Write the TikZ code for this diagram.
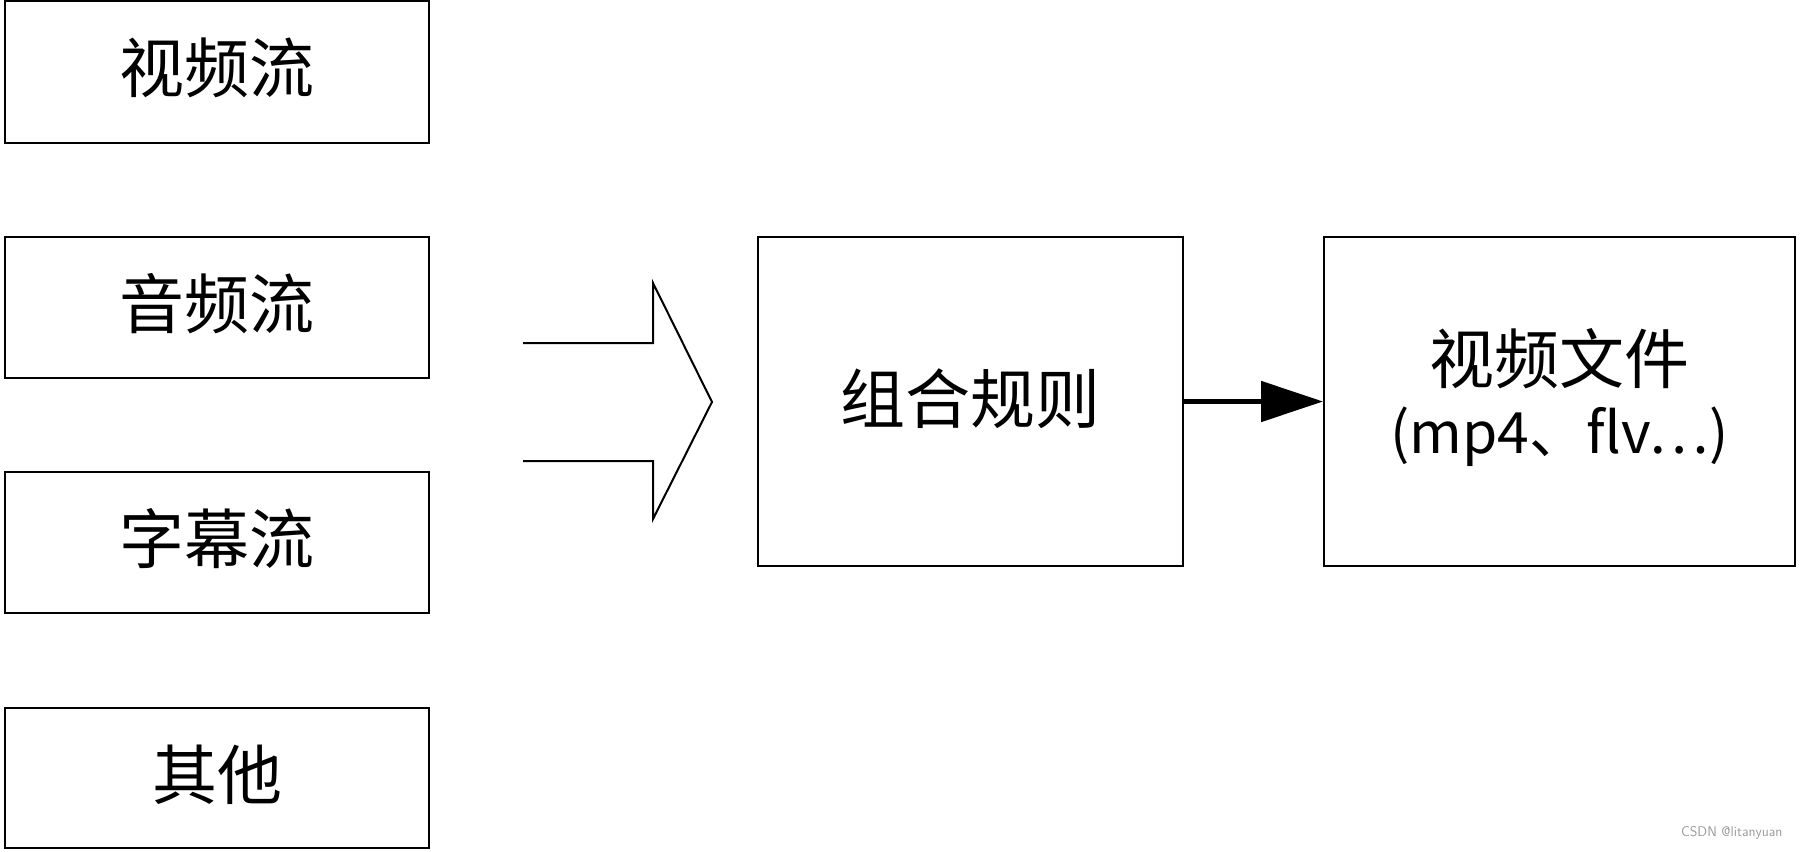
\documentclass[tikz,border=0pt]{standalone}
\usepackage{fontspec}
\newfontfamily\cjk{Noto Sans CJK SC}
\usetikzlibrary{arrows.meta}
\begin{document}
\begin{tikzpicture}[x=1pt,y=-1pt,
  box/.style={draw, line width=2pt, inner sep=0pt, font=\cjk\fontsize{65}{76}\selectfont},
  lbl/.style={font=\cjk\fontsize{65}{76}\selectfont, inner sep=0pt},
  bigarrow/.style={draw, line width=2pt, line join=miter},
  link/.style={line width=5pt, -{Triangle[length=62pt,width=40pt]}}]
\useasboundingbox (0,0) rectangle (1801,851);
\node[box, minimum width=424pt, minimum height=142pt] (v) at (217,72) {};
\node[lbl] (vt) at (217,68) {视频流};
\node[box, minimum width=424pt, minimum height=141pt] (a) at (217,307.5) {};
\node[lbl] (at) at (217,304) {音频流};
\node[box, minimum width=424pt, minimum height=141pt] (s) at (217,542.5) {};
\node[lbl] (st) at (217,539) {字幕流};
\node[box, minimum width=424pt, minimum height=140pt] (o) at (217,778) {};
\node[lbl] (ot) at (217,774.5) {其他};
\node[box, minimum width=425pt, minimum height=329pt] (r) at (970.5,401.5) {};
\node[lbl] (rt) at (970.5,399) {组合规则};
\node[box, minimum width=471pt, minimum height=329pt] (f) at (1559.5,401.5) {};
\node[lbl] (ft1) at (1559.5,359) {视频文件};
\node[lbl, font=\cjk\fontsize{57}{66}\selectfont] (ft2) at (1559.5,437) {(mp4、flv…)};
\coordinate (t1) at (523,343);
\coordinate (t2) at (523,461);
\draw[bigarrow] (t1) -- (653,343) -- (653,283) -- (712,402) -- (653,519) -- (653,461) -- (t2);
\draw[link] (r.east) -- (f.west);
\node[text=gray!80, font=\fontsize{14}{16}\selectfont\sffamily, anchor=east] (w) at (1786,833) {CSDN @litanyuan};
\end{tikzpicture}
\end{document}
